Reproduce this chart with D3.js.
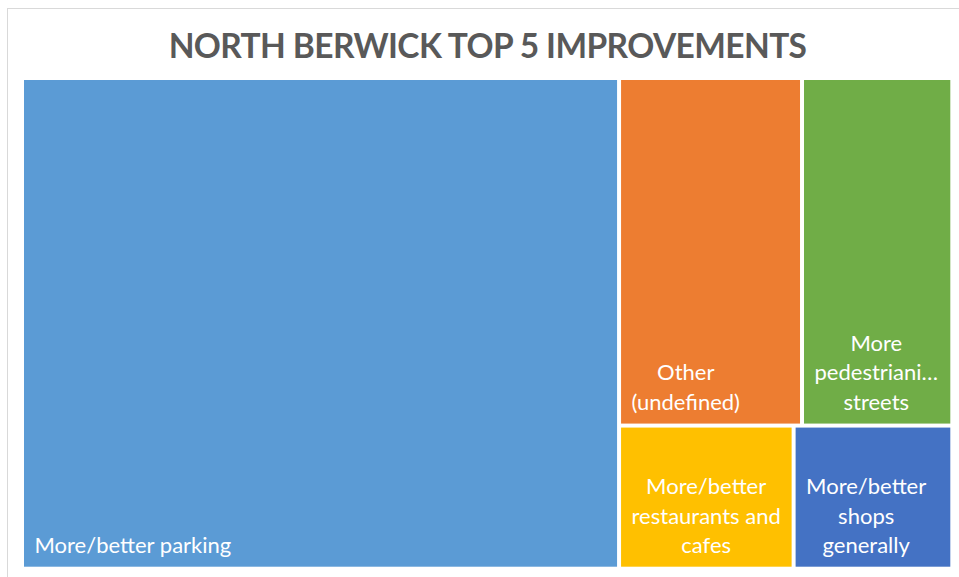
<!DOCTYPE html>
<html>
<head>
<meta charset="utf-8">
<script src="https://cdn.jsdelivr.net/npm/d3@7"></script>
<style>
  body { margin: 0; background: #fff; }
  text { font-family: Lato, "Open Sans", sans-serif; }
</style>
</head>
<body>
<div class="chart"></div>
<script>
const categories = [
  'More/better parking',
  'Other (undefined)',
  'More pedestrianised streets',
  'More/better restaurants and cafes',
  'More/better shops generally'
];
const values = [129, 28, 23, 11, 10];
const colors = ['#5B9BD5', '#ED7D31', '#70AD47', '#FFC000', '#4472C4'];
// wrapped labels as excel shows them
const labelLines = [
  ['More/better parking'],
  ['Other', '(undefined)'],
  ['More', 'pedestriani\u2026', 'streets'],
  ['More/better', 'restaurants and', 'cafes'],
  ['More/better', 'shops', 'generally']
];
const title = 'NORTH BERWICK TOP 5 IMPROVEMENTS';

const width = 959, height = 577;
const marginLeft = 24, marginTop = 80;
const plotW = 926.3, plotH = 486.7;
const lineH = 29.3;

const svg = d3.select('.chart')
  .append('svg')
    .attr('width', width)
    .attr('height', height);

// chart frame (cut off at right/bottom like the screenshot)
svg.append('rect')
  .attr('x', 7.5)
  .attr('y', 8.5)
  .attr('width', 1000)
  .attr('height', 1000)
  .attr('fill', '#fff')
  .attr('stroke', '#d9d9d9')
  .attr('stroke-width', 1);

svg.append('text')
  .text(title)
  .attr('x', 487.5)
  .attr('y', 58)
  .attr('text-anchor', 'middle')
  .attr('font-weight', 'bold')
  .attr('font-size', 33.5)
  .attr('letter-spacing', -0.6)
  .attr('fill', '#595959');

const data = categories.map((c, i) => ({
  name: c,
  value: values[i],
  color: colors[i],
  lines: labelLines[i]
}));

const root = d3.hierarchy({ children: data })
  .sum(d => d.value || 0)
  .sort((a, b) => b.value - a.value);

d3.treemap()
  .size([plotW, plotH])
  .paddingInner(4)
  .tile(d3.treemapSquarify)(root);

const g = svg.append('g')
  .attr('transform', `translate(${marginLeft}, ${marginTop})`);

const cell = g.selectAll('g.cell')
  .data(root.leaves())
  .enter().append('g')
    .attr('class', 'cell');

cell.append('rect')
  .attr('x', d => d.x0)
  .attr('y', d => d.y0)
  .attr('width', d => d.x1 - d.x0)
  .attr('height', d => d.y1 - d.y0)
  .attr('fill', d => d.data.color);

cell.each(function(d) {
  const t = d3.select(this).append('text')
    .attr('fill', '#fff')
    .attr('font-size', 22)
    .attr('text-anchor', 'middle');
  const n = d.data.lines.length;
  const spans = t.selectAll('tspan')
    .data(d.data.lines)
    .enter().append('tspan')
      .text(s => s)
      .attr('y', (s, i) => d.y1 - 13.8 - (n - 1 - i) * lineH);
  let maxW = 0;
  spans.each(function() { maxW = Math.max(maxW, this.getComputedTextLength()); });
  spans.attr('x', d.x0 + 10.5 + maxW / 2);
});
</script>
</body>
</html>
